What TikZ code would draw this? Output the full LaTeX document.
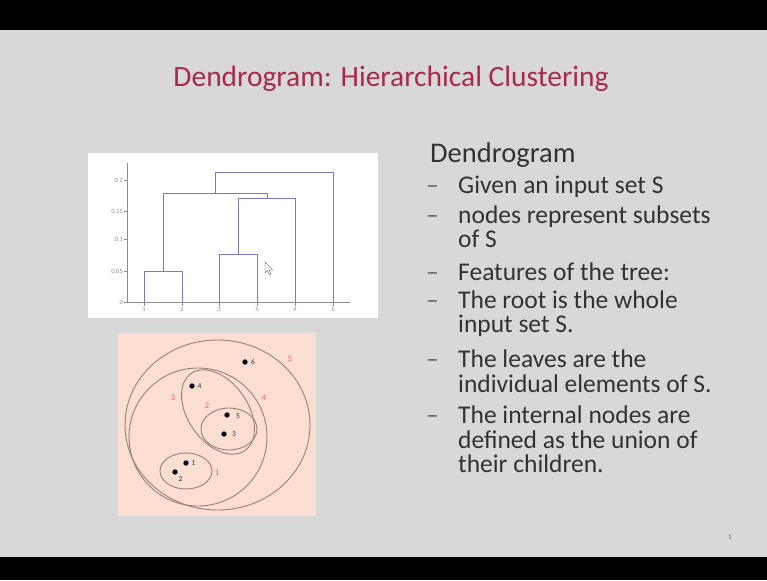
\documentclass[tikz,border=0pt]{standalone}
\usepackage{fontspec}
\setmainfont{Carlito}
\definecolor{bgray}{RGB}{216,216,216}
\definecolor{titlered}{RGB}{168,42,72}
\definecolor{textgray}{RGB}{50,50,50}
\definecolor{dashgray}{RGB}{100,100,100}
\definecolor{dendro}{RGB}{120,120,196}
\definecolor{axisgray}{RGB}{140,140,140}
\definecolor{peach}{RGB}{250,222,210}
\definecolor{venncol}{RGB}{150,128,118}
\definecolor{vennred}{RGB}{228,96,116}
\begin{document}
\begin{tikzpicture}[x=1pt,y=-1pt,
  dline/.style={draw=dendro, line width=1pt},
  axisline/.style={draw=axisgray, line width=0.9pt},
  ticklbl/.style={font=\fontsize{6.5}{6.5}\selectfont, text=axisgray, anchor=east, inner sep=1pt},
  leaflbl/.style={font=\fontsize{6.5}{6.5}\selectfont, text=axisgray, anchor=north, inner sep=1pt},
  venn/.style={draw=venncol, line width=0.9pt},
  redlbl/.style={text=vennred, font=\fontsize{8.5}{8.5}\selectfont, inner sep=0},
  dotpt/.style={circle, fill=black, inner sep=0, minimum size=5.4pt},
  dotlbl/.style={text=textgray, font=\fontsize{7.5}{7.5}\selectfont, inner sep=0},
  bul/.style={anchor=base west, inner sep=0, text=textgray, font=\fontsize{25.5}{30}\selectfont},
  dashmark/.style={anchor=base west, inner sep=0, text=dashgray, font=\fontsize{25.5}{30}\selectfont}]
\useasboundingbox (0,0) rectangle (767,580);
% background
\fill[bgray] (0,0) rectangle (767,580);
\fill[black] (0,0) rectangle (767,30);
\fill[black] (0,557) rectangle (767,580);
% title
\node[anchor=base, inner sep=0, text=titlered, font=\fontsize{29.5}{34}\selectfont] (title) at (391,87) {Dendrogram: Hierarchical Clustering};
% dendrogram panel
\fill[white] (88,153) rectangle (378,318);
\draw[axisline] (127,163) -- (127,302) -- (350,302);
\foreach \yy/\lab in {302/0,271/0.05,239/0.1,211/0.15,180/0.2} {
  \draw[axisline] (124,\yy) -- (127,\yy);
  \node[ticklbl] at (124,\yy) {\lab};
}
\foreach \xx/\lab in {144/1,182/2,219/3,257/5,295/4,333/6} {
  \coordinate (leaf\lab) at (\xx,302);
  \draw[axisline] (\xx,302) -- (\xx,306);
  \node[leaflbl] at (\xx,306) {\lab};
}
\coordinate (m12) at (163,271);
\coordinate (m35) at (238,254);
\coordinate (m354) at (267,198);
\coordinate (m12354) at (215,193);
\draw[dline] (leaf1) |- (182,271) -- (leaf2);
\draw[dline] (leaf3) |- (257,254) -- (leaf5);
\draw[dline] (m35) -- (238,198) -- (295,198) -- (leaf4);
\draw[dline] (m12) -- (163,193) -- (267,193) -- (m354);
\draw[dline] (m12354) -- (215,172) -- (333,172) -- (leaf6);
% cursor
\draw[fill=white, draw=gray, line width=0.5pt] (265,262) -- (265,273) -- (267.5,270.6) -- (269.4,274.6) -- (271,273.9) -- (269.1,270) -- (272.6,270) -- cycle;
% venn panel
\fill[peach] (118,333) rectangle (316,516);
\draw[venn] (217.5,425) ellipse [x radius=92.5pt, y radius=85pt];
\draw[venn] (198,437) ellipse [x radius=69pt, y radius=69pt];
\draw[venn, shift={(218,412)}, rotate=-55] (0,0) ellipse [x radius=47pt, y radius=30pt];
\draw[venn] (229,429) ellipse [x radius=28pt, y radius=21pt];
\draw[venn] (186,471) ellipse [x radius=26pt, y radius=18pt];
% red cluster labels
\node[redlbl] (c1) at (217,473) {1};
\node[redlbl] (c2) at (207,406) {2};
\node[redlbl] (c3) at (173,398) {3};
\node[redlbl] (c4) at (264,398) {4};
\node[redlbl] (c5) at (290,359) {5};
% points
\node[dotpt] (p4) at (192,386) {}; \node[dotlbl] at (199.5,386) {4};
\node[dotpt] (p6) at (245,362) {}; \node[dotlbl] at (253,362) {6};
\node[dotpt] (p5) at (227,415) {}; \node[dotlbl] at (238,416) {5};
\node[dotpt] (p3) at (224,434) {}; \node[dotlbl] at (234,434) {3};
\node[dotpt] (p1) at (186,463) {}; \node[dotlbl] at (193.5,463) {1};
\node[dotpt] (p2) at (175,472) {}; \node[dotlbl] at (180.5,479) {2};
% right text
\node[anchor=base west, inner sep=0, text=textgray, font=\fontsize{28.5}{32}\selectfont] (head) at (430,162) {Dendrogram};
\foreach \yy in {193,223,280,308,367,423} {
  \node[dashmark] at (426,\yy) {–};
}
\node[bul] (b1) at (458,193) {Given an input set S};
\node[bul] (b2) at (458,223) {nodes represent subsets};
\node[bul] (b2b) at (458,247) {of S};
\node[bul] (b3) at (458,280) {Features of the tree:};
\node[bul] (b4) at (458,308) {The root is the whole};
\node[bul] (b4b) at (458,332) {input set S.};
\node[bul] (b5) at (458,367) {The leaves are the};
\node[bul] (b5b) at (458,392) {individual elements of S.};
\node[bul] (b6) at (458,423) {The internal nodes are};
\node[bul] (b6b) at (458,448) {defined as the union of};
\node[bul] (b6c) at (458,472) {their children.};
% page number
\node[text=dashgray, font=\fontsize{7}{7}\selectfont, inner sep=0] (pnum) at (730,537) {1};
\end{tikzpicture}
\end{document}
